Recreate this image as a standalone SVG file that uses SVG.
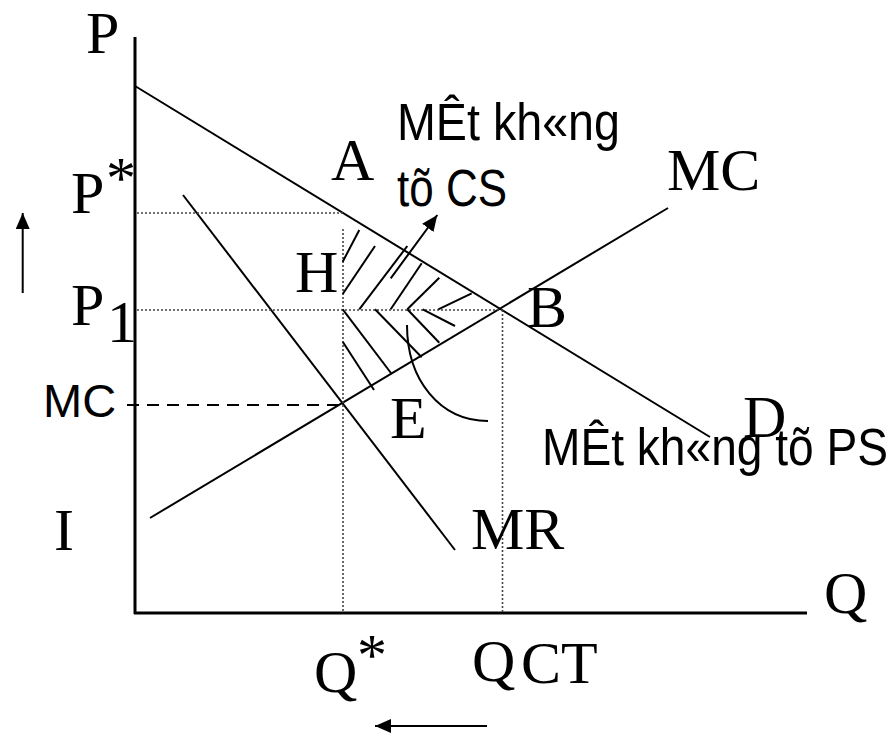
<svg xmlns="http://www.w3.org/2000/svg" width="894" height="735" viewBox="0 0 894 735">
<style>
.ln{stroke:#000;stroke-width:2;fill:none}
.ax{stroke:#000;stroke-width:3;fill:none}
.dot{stroke:#444;stroke-width:1.6;stroke-dasharray:2 2;fill:none}
.dash{stroke:#000;stroke-width:2;stroke-dasharray:12 8;fill:none}
.hatch{stroke:#000;stroke-width:2}
.tn{font-family:"Liberation Serif","Times New Roman",serif;font-size:60px;fill:#000}
.sa{font-family:"Liberation Sans",Arial,sans-serif;fill:#000}
</style>
<defs>
<marker id="ah" viewBox="0 0 16 14" refX="16" refY="7" markerWidth="16" markerHeight="14" orient="auto" markerUnits="userSpaceOnUse">
<path d="M0,0 L16,7 L0,14 z" fill="#000"/>
</marker>
</defs>
<g id="connectors">
<line id="axis-p" class="ax" x1="135" y1="37" x2="135" y2="614"/>
<line id="axis-q" class="ax" x1="134" y1="613" x2="807" y2="613"/>
<line id="demand" class="ln" x1="135" y1="86" x2="710" y2="437"/>
<line id="mc" class="ln" x1="150" y1="518" x2="668" y2="208"/>
<line id="mr" class="ln" x1="183" y1="195" x2="455" y2="550"/>
<line class="dot" x1="137" y1="213" x2="343" y2="213"/>
<line class="dot" x1="137" y1="310" x2="502" y2="310"/>
<line class="dot" x1="343" y1="229" x2="343" y2="612"/>
<line class="dot" x1="502.5" y1="310" x2="502.5" y2="612"/>
<line class="dash" x1="127" y1="405" x2="343" y2="405"/>
<g id="hatching">
<line class="hatch" x1="342.7" y1="261.7" x2="359.3" y2="230"/>
<line class="hatch" x1="342.7" y1="294" x2="375" y2="246"/>
<line class="hatch" x1="359.3" y1="309.3" x2="407.3" y2="246"/>
<line class="hatch" x1="390.7" y1="309.3" x2="421.7" y2="263.3"/>
<line class="hatch" x1="407.3" y1="309.3" x2="439.3" y2="277.7"/>
<line class="hatch" x1="438.3" y1="309.3" x2="471.7" y2="293.3"/>
<line class="hatch" x1="342.7" y1="309.3" x2="391.7" y2="374"/>
<line class="hatch" x1="342.7" y1="341.7" x2="374" y2="390"/>
<line class="hatch" x1="375" y1="309.3" x2="421.7" y2="357.3"/>
<line class="hatch" x1="407.3" y1="309.3" x2="439.3" y2="342.7"/>
<line class="hatch" x1="422.7" y1="309.3" x2="455" y2="326"/>
</g>
<line id="arrow-cs" class="ln" x1="390.7" y1="278.3" x2="437.3" y2="215" marker-end="url(#ah)"/>
<path id="arc-ps" class="ln" d="M407,325 C407,380 440,421 488,421"/>
<line id="arrow-up" class="ln" x1="22.7" y1="293" x2="22.7" y2="213" marker-end="url(#ah)"/>
<line id="arrow-left" class="ln" x1="487" y1="726" x2="375" y2="726" marker-end="url(#ah)"/>
</g>
<g id="label-P"><text class="tn" x="86" y="53" font-size="64">P</text></g>
<g id="label-Pstar"><text class="tn" x="71" y="213">P</text><text class="tn" x="106" y="198" font-size="36">*</text></g>
<g id="label-P1"><text class="tn" x="71" y="325">P</text><text class="tn" x="107" y="342" font-size="46">1</text></g>
<g id="label-MC-left"><text class="sa" x="43" y="417" font-size="47">MC</text></g>
<g id="label-I"><text class="tn" x="54" y="550" font-size="64">I</text></g>
<g id="label-A"><text class="tn" x="331" y="180">A</text></g>
<g id="label-MC"><text class="tn" x="667" y="190" font-size="64">MC</text></g>
<g id="label-H"><text class="tn" x="295" y="292" font-size="50">H</text></g>
<g id="label-B"><text class="tn" x="527" y="327">B</text></g>
<g id="label-E"><text class="tn" x="390" y="438" font-size="64">E</text></g>
<g id="label-D"><text class="tn" x="743" y="437" font-size="64">D</text></g>
<g id="label-MR"><text class="tn" x="471" y="549" font-size="62">MR</text></g>
<g id="label-Q"><text class="tn" x="824" y="613" font-size="64">Q</text></g>
<g id="label-Qstar"><text class="tn" x="314" y="692">Q</text><text class="tn" x="357" y="675" font-size="36">*</text></g>
<g id="label-QCT"><text class="tn" x="472" y="681" font-size="62">Q</text><text class="tn" x="521" y="683" font-size="35">CT</text></g>
<g id="label-cs"><text class="sa" x="397" y="140" font-size="51" textLength="223" lengthAdjust="spacingAndGlyphs">MÊt kh«ng</text><text class="sa" x="397" y="206" font-size="51" textLength="110" lengthAdjust="spacingAndGlyphs">tõ CS</text></g>
<g id="label-ps"><text class="sa" x="542" y="465" font-size="51" textLength="346" lengthAdjust="spacingAndGlyphs">MÊt kh«ng tõ PS</text></g>
</svg>
